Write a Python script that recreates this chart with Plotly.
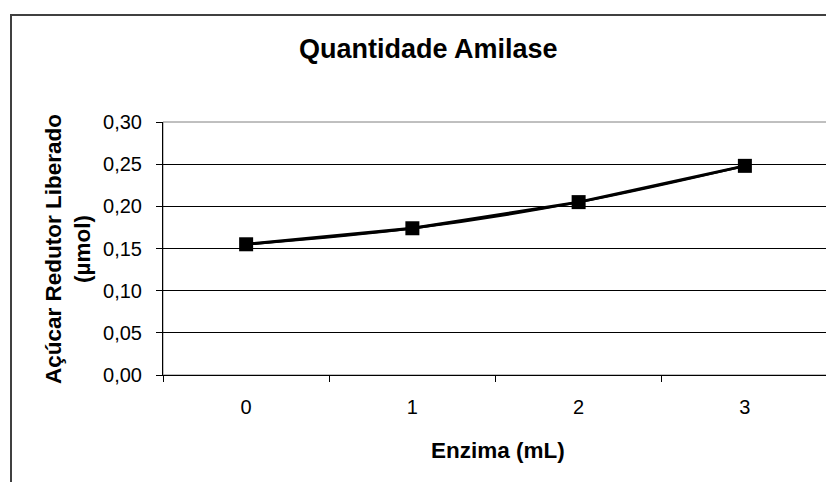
import plotly.graph_objects as go

categories = ["0", "1", "2", "3"]
acucar = [0.155, 0.174, 0.205, 0.248]
y_ticks = [0.00, 0.05, 0.10, 0.15, 0.20, 0.25, 0.30]

W, H = 834, 482
OFF = 8  # page body margin
L, T = 163 - OFF, 122 - OFF
R = W - (828 - OFF)
B = H - (375 - OFF)
pw, ph = W - L - R, H - T - B

def px_x(x):
    return (x - OFF - L) / pw

def px_y(y):
    return (H - B - (y - OFF)) / ph

FONT = "Liberation Sans, Arial, sans-serif"

fig = go.Figure()
# smoothed trend-like line overlapping the data line (gives the doubled look)
fig.add_trace(go.Scatter(
    x=categories, y=acucar, mode="lines",
    line=dict(color="black", width=2.5, shape="spline", smoothing=1.0),
    showlegend=False, hoverinfo="skip",
))
fig.add_trace(go.Scatter(
    x=categories, y=acucar, mode="lines+markers",
    line=dict(color="black", width=3),
    marker=dict(symbol="square", size=14, color="black"),
    showlegend=False,
))

fig.update_layout(
    width=W, height=H,
    margin=dict(l=L, r=R, t=T, b=B, pad=0),
    paper_bgcolor="white", plot_bgcolor="white",
    separators=",.",
    font=dict(family=FONT, color="black", size=20),
    xaxis=dict(
        type="category", range=[-0.5, len(categories) - 0.5],
        tickson="boundaries", ticks="outside", ticklen=6,
        tickcolor="black", showline=True, linecolor="black", linewidth=1,
        showgrid=False, tickfont=dict(size=20), ticklabelstandoff=14,
    ),
    yaxis=dict(
        range=[0, 0.30], tickvals=y_ticks, tickformat=".2f",
        ticks="outside", ticklen=6, tickcolor="black",
        showline=True, linecolor="black", linewidth=1,
        showgrid=True, gridcolor="black", gridwidth=1,
        zeroline=False, tickfont=dict(size=20), ticklabelstandoff=10,
    ),
    annotations=[
        dict(text="<b>Quantidade Amilase</b>", xref="paper", yref="paper",
             x=px_x(428), y=px_y(49), xanchor="center", yanchor="middle",
             showarrow=False, font=dict(size=27)),
        dict(text="<b>Enzima (mL)</b>", xref="paper", yref="paper",
             x=px_x(498), y=px_y(450), xanchor="center", yanchor="middle",
             showarrow=False, font=dict(size=22.5)),
        dict(text="<b>Açúcar Redutor Liberado<br>(µmol)</b>", xref="paper", yref="paper",
             x=px_x(68), y=px_y(249), xanchor="center", yanchor="middle",
             textangle=-90, showarrow=False, font=dict(size=22.5)),
    ],
    shapes=[
        dict(type="rect", xref="paper", yref="paper", x0=0, x1=1, y0=0, y1=1,
             line=dict(color="#808080", width=1), layer="below"),
        dict(type="rect", xref="paper", yref="paper",
             x0=px_x(11), x1=px_x(850), y0=px_y(15), y1=px_y(500),
             line=dict(color="#404040", width=2)),
    ],
)

fig.write_html("out.html")
